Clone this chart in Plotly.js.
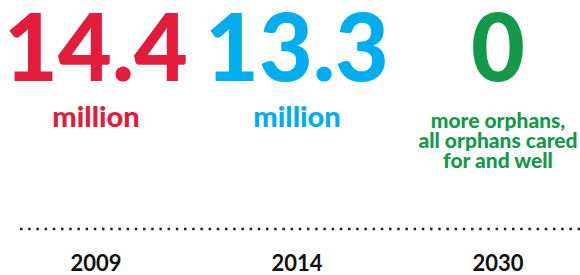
<!DOCTYPE html>
<html>
<head>
<meta charset="utf-8">
<script src="https://cdn.plot.ly/plotly-3.0.1.min.js"></script>
<style>html,body{margin:0;padding:0;background:#fff;}#chart{width:580px;height:275px;}</style>
</head>
<body>
<div id="chart"></div>
<script>
// Data
var years = ['2009', '2014', '2030'];
var figures = ['14.4', '13.3', '0'];
var units = ['million', 'million'];
var noteLines = ['more orphans,', 'all orphans cared', 'for and well'];
var colors = ['#E41C3C', '#00AEEF', '#14994A'];

var FONT = 'Lato, "Open Sans", Arial, sans-serif';

// Row positions (layout, pixel-like y axis reversed)
var numberRow = 58;
var unitRow = 120;
var noteRows = [123, 143, 163];

var traces = [
  {
    type: 'scatter', mode: 'text', x: years, y: years.map(function(){return numberRow;}),
    text: figures, textposition: 'middle center', cliponaxis: false,
    textfont: {family: FONT, size: 93, weight: 900, color: colors},
    hoverinfo: 'skip', showlegend: false
  },
  {
    type: 'scatter', mode: 'text', x: years.slice(0, 2), y: [unitRow, unitRow],
    text: units, textposition: 'middle center', cliponaxis: false,
    textfont: {family: FONT, size: 29, weight: 900, color: colors.slice(0, 2)},
    hoverinfo: 'skip', showlegend: false
  },
  {
    type: 'scatter', mode: 'text', x: noteLines.map(function(){return years[2];}), y: noteRows,
    text: noteLines, textposition: 'middle center', cliponaxis: false,
    textfont: {family: FONT, size: 21, weight: 900, color: colors[2]},
    hoverinfo: 'skip', showlegend: false
  }
];

var layout = {
  width: 580, height: 275,
  margin: {l: 0, r: 0, t: 0, b: 46, pad: 0},
  paper_bgcolor: '#fff', plot_bgcolor: '#fff',
  showlegend: false,
  xaxis: {
    type: 'category', range: [-0.478, 2.408], fixedrange: true,
    showgrid: false, zeroline: false, showline: false, ticks: '',
    tickfont: {family: FONT, size: 22, weight: 700, color: '#111'},
    ticklabelstandoff: 19
  },
  yaxis: {
    range: [229, 0], visible: false, fixedrange: true, showgrid: false, zeroline: false
  },
  shapes: [{
    type: 'line', xref: 'paper', yref: 'paper', x0: 20/580, x1: 1, y0: 0, y1: 0,
    line: {color: '#222', width: 2.5, dash: '2.5px,5.7px'}
  }]
};

Plotly.newPlot('chart', traces, layout, {staticPlot: true, displayModeBar: false});
</script>
</body>
</html>
